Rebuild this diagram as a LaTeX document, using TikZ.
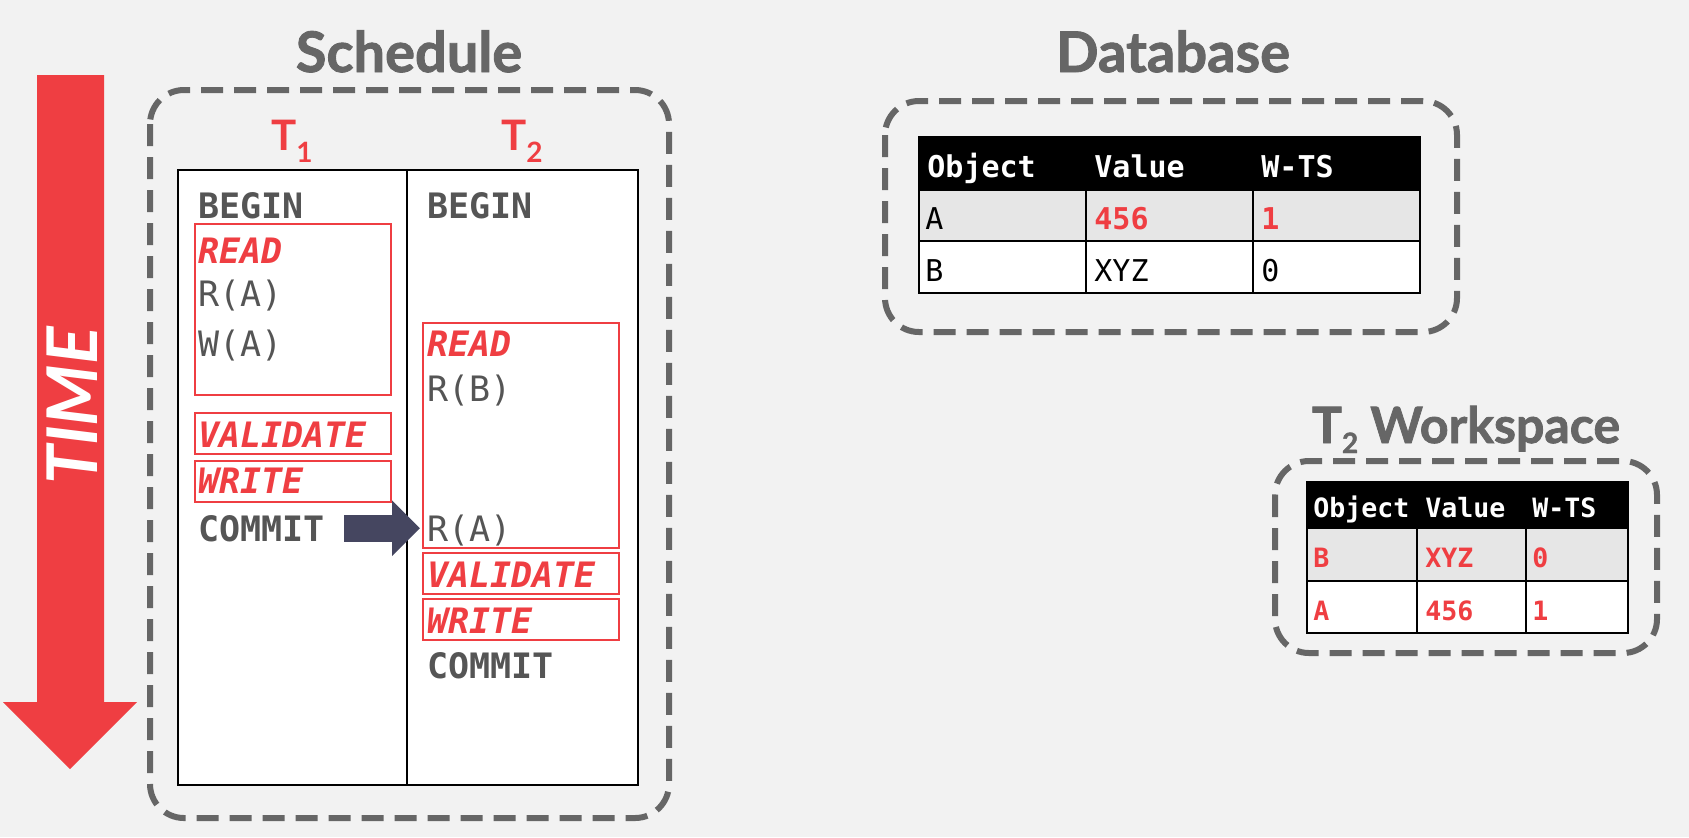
\documentclass[tikz,border=0pt]{standalone}
\usepackage{fontspec}
\setmainfont{Lato}
\setmonofont{DejaVu Sans Mono}
\newfontfamily\heavyfont{Lato}[BoldFeatures={FakeBold=1.6}]
\usetikzlibrary{arrows.meta, positioning}
\definecolor{cmured}{RGB}{239,62,66}
\definecolor{boxgray}{RGB}{102,102,102}
\definecolor{opgray}{RGB}{85,85,85}
\definecolor{arrownavy}{RGB}{69,70,96}
\definecolor{slidebg}{RGB}{242,242,242}
\definecolor{rowgray}{RGB}{230,230,230}
\tikzset{
  groupbox/.style={draw=boxgray, line width=3pt, dash pattern=on 11pt off 5.5pt, rounded corners=17pt},
  paneltitle/.style={anchor=base, inner sep=0pt, text=boxgray, font=\fontsize{28}{30}\selectfont\heavyfont\bfseries},
  txn/.style={anchor=base, inner sep=0pt, text=cmured, font=\fontsize{21}{22}\selectfont\bfseries},
  op/.style={anchor=base west, inner sep=0pt, text=opgray, font=\fontsize{17.5}{18}\selectfont\ttfamily},
  keyop/.style={op, font=\fontsize{17.5}{18}\selectfont\ttfamily\bfseries},
  phase/.style={op, text=cmured, font=\fontsize{17.5}{18}\selectfont\ttfamily\bfseries\itshape},
  phasebox/.style={draw=cmured, line width=1.2pt},
  cell/.style={anchor=base west, inner sep=0pt, font=\fontsize{15}{16}\selectfont\ttfamily},
  hcell/.style={cell, text=white, font=\fontsize{15}{16}\selectfont\ttfamily\bfseries},
  rcell/.style={cell, text=cmured, font=\fontsize{15}{16}\selectfont\ttfamily\bfseries},
  wcell/.style={cell, text=cmured, font=\fontsize{13.3}{14}\selectfont\ttfamily\bfseries},
  tablerule/.style={draw=black, line width=1pt},
  flow/.style={arrownavy, line width=13.5pt, -{Triangle[length=14pt, width=27pt]}},
}

\begin{document}
\begin{tikzpicture}[x=0.5pt, y=-0.5pt]
  \fill[slidebg] (0,0) rectangle (1689,837);
  \useasboundingbox (0,0) rectangle (1689,837);
  % time arrow
  \fill[cmured] (37,75) -- (104,75) -- (104,702) -- (137,702) -- (70,769) -- (3,702) -- (37,702) -- cycle;
  \node[rotate=90, text=white, font=\fontsize{35}{36}\selectfont\heavyfont\bfseries\itshape] (time) at (72,406) {TIME};
  % schedule
  \node[paneltitle] (schedtitle) at (409,72) {Schedule};
  \draw[groupbox] (150,90) rectangle (669,818);
  \draw[tablerule, fill=white] (178,170) rectangle (638,785);
  \draw[tablerule] (407,170) -- (407,785);
  \node[txn] (T1) at (292,150) {T\raisebox{-6pt}{\fontsize{14}{14}\selectfont 1}};
  \node[txn] (T2) at (522,150) {T\raisebox{-6pt}{\fontsize{14}{14}\selectfont 2}};
  % T1 phases
  \draw[phasebox] (195,224) rectangle (391,395);
  \draw[phasebox] (195,413) rectangle (391,454);
  \draw[phasebox] (195,461) rectangle (391,502);
  \node[keyop] (t1begin) at (198,218) {BEGIN};
  \node[phase] (t1read) at (198,263) {READ};
  \node[op] (t1ra) at (198,306) {R(A)};
  \node[op] (t1wa) at (198,356) {W(A)};
  \node[phase] (t1val) at (198,447) {VALIDATE};
  \node[phase] (t1write) at (198,493) {WRITE};
  \node[keyop] (t1commit) at (198,541) {COMMIT};
  % T2 phases
  \draw[phasebox] (423,323) rectangle (619,548);
  \draw[phasebox] (423,553) rectangle (619,594);
  \draw[phasebox] (423,599) rectangle (619,640);
  \node[keyop] (t2begin) at (427,218) {BEGIN};
  \node[phase] (t2read) at (427,356) {READ};
  \node[op] (t2rb) at (427,401) {R(B)};
  \node[op] (t2ra) at (427,541) {R(A)};
  \node[phase] (t2val) at (427,587) {VALIDATE};
  \node[phase] (t2write) at (427,633) {WRITE};
  \node[keyop] (t2commit) at (427,678) {COMMIT};
  \coordinate (flowend) at ([xshift=-3.5pt]t2ra.west);
  \draw[flow] ([xshift=9.5pt]t1commit.east) -- (flowend |- t1commit.east);
  % database
  \node[paneltitle] (dbtitle) at (1173,72) {Database};
  \draw[groupbox] (885,101) rectangle (1457,332);
  \fill[black] (919,137) rectangle (1420,190);
  \fill[rowgray] (919,190) rectangle (1420,241);
  \fill[white] (919,241) rectangle (1420,293);
  \draw[tablerule] (919,137) rectangle (1420,293) (919,190) -- (1420,190) (919,241) -- (1420,241);
  \foreach \x in {1086,1253}
    \draw[tablerule] (\x,190) -- (\x,293);
  \foreach \t [count=\i] in {Object,Value,W-TS}
    \node[hcell] (dbh\i) at (760+167*\i,177) {\t};
  \node[cell] (dba1) at (925,229) {A};
  \node[rcell] (dba2) at (1094,229) {456};
  \node[rcell] (dba3) at (1261,229) {1};
  \node[cell] (dbb1) at (925,281) {B};
  \node[cell] (dbb2) at (1094,281) {XYZ};
  \node[cell] (dbb3) at (1261,281) {0};
  % T2 workspace
  \node[paneltitle, font=\fontsize{25}{27}\selectfont\heavyfont\bfseries] (wstitle) at (1466,443) {T\raisebox{-5pt}{\fontsize{14}{14}\selectfont 2} Workspace};
  \draw[groupbox] (1275,461) rectangle (1657,653);
  \fill[black] (1307,482) rectangle (1628,528);
  \fill[rowgray] (1307,528) rectangle (1628,581);
  \fill[white] (1307,581) rectangle (1628,633);
  \draw[tablerule] (1307,482) rectangle (1628,633) (1307,528) -- (1628,528) (1307,581) -- (1628,581);
  \foreach \x in {1417,1526}
    \draw[tablerule] (\x,528) -- (\x,633);
  \node[wcell, text=white] (wsh1) at (1313,517) {Object};
  \node[wcell, text=white] (wsh2) at (1425,517) {Value};
  \node[wcell, text=white] (wsh3) at (1532,517) {W-TS};
  \node[wcell] (wsb1) at (1313,567) {B};
  \node[wcell] (wsb2) at (1425,567) {XYZ};
  \node[wcell] (wsb3) at (1532,567) {0};
  \node[wcell] (wsa1) at (1313,620) {A};
  \node[wcell] (wsa2) at (1425,620) {456};
  \node[wcell] (wsa3) at (1532,620) {1};
\end{tikzpicture}
\end{document}
